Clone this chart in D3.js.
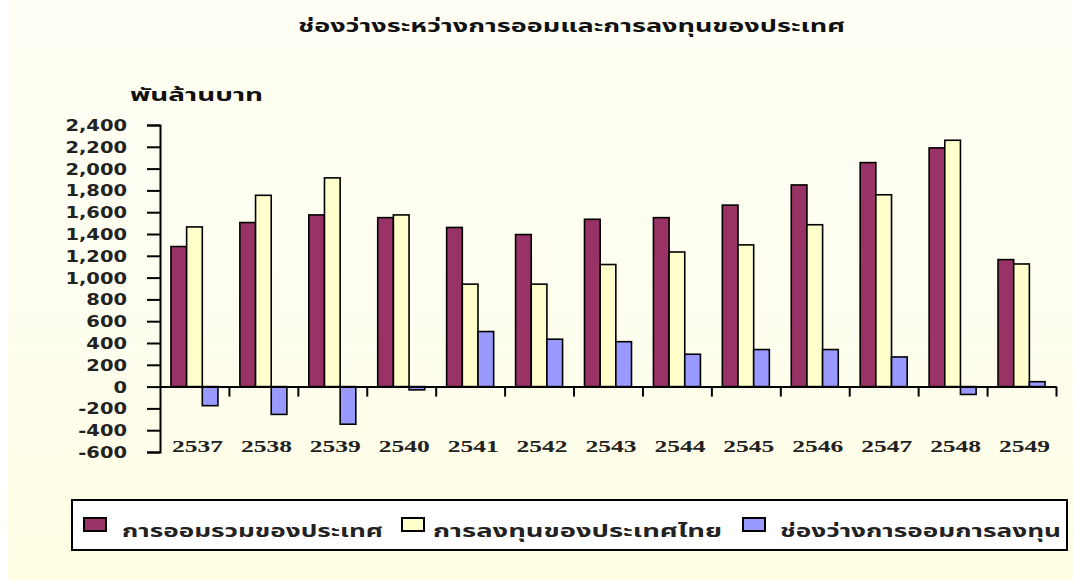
<!DOCTYPE html>
<html><head><meta charset="utf-8">
<script src="https://cdn.jsdelivr.net/npm/d3@7"></script>
<style>body{margin:0;background:#fff}svg{display:block}</style>
</head><body>
<svg id="c" width="1073" height="582"></svg>
<script>
const categories = ["2537","2538","2539","2540","2541","2542","2543","2544","2545","2546","2547","2548","2549"];
const seriesNames = ["การออมรวมของประเทศ","การลงทุนของประเทศไทย","ช่องว่างการออมการลงทุน"];
const savings    = [1285,1505,1575,1550,1460,1395,1535,1550,1665,1850,2055,2190,1165];
const investment = [1465,1755,1915,1575, 940, 940,1120,1235,1300,1485,1760,2260,1125];
const gap        = [-175,-255,-345, -30, 505, 435, 412, 297, 340, 340, 272, -72,  45];
const yTicks = [-600,-400,-200,0,200,400,600,800,1000,1200,1400,1600,1800,2000,2200,2400];
const titleText = "ช่องว่างระหว่างการออมและการลงทุนของประเทศ";
const yLabelText = "พันล้านบาท";
const colors = ["#993366","#FFFFCC","#9999FF"];

const svg = d3.select("#c");
const defs = svg.append("defs");
const grad = defs.append("linearGradient").attr("id","bg").attr("x1",0).attr("y1",0).attr("x2",0).attr("y2",1);
grad.append("stop").attr("offset","0%").attr("stop-color","#FEFEF4");
grad.append("stop").attr("offset","55%").attr("stop-color","#FEFEF0");
grad.append("stop").attr("offset","100%").attr("stop-color","#FFFDE2");
svg.append("rect").attr("x",8).attr("y",0).attr("width",1065).attr("height",580).attr("fill","url(#bg)");

const thaiFont = "'Noto Sans Thai','Noto Sans','DejaVu Sans',sans-serif";

// title
svg.append("text").attr("x",298).attr("y",32).attr("textLength",547).attr("lengthAdjust","spacingAndGlyphs")
  .attr("font-family",thaiFont).attr("font-weight","bold").attr("font-size",17).attr("fill","#111").text(titleText);
// y label
svg.append("text").attr("x",130).attr("y",101).attr("textLength",133).attr("lengthAdjust","spacingAndGlyphs")
  .attr("font-family",thaiFont).attr("font-weight","bold").attr("font-size",17).attr("fill","#111").text(yLabelText);

const left = 160, right = 1056;
const y = d3.scaleLinear().domain([-600,2400]).range([452,125]);
const x0 = d3.scaleBand().domain(categories).range([left,right]).paddingInner(0.318).paddingOuter(0.159);
const x1 = d3.scaleBand().domain([0,1,2]).range([0,x0.bandwidth()]);

const table = categories.map((c,i)=>({cat:c, vals:[savings[i],investment[i],gap[i]]}));

// bars
const groups = svg.append("g").selectAll("g").data(table).join("g")
  .attr("transform",d=>`translate(${x0(d.cat)},0)`);
groups.selectAll("rect").data(d=>d.vals.map((v,k)=>({v,k}))).join("rect")
  .attr("x",d=>x1(d.k)).attr("width",x1.bandwidth())
  .attr("y",d=>y(Math.max(0,d.v))).attr("height",d=>Math.abs(y(d.v)-y(0)))
  .attr("fill",d=>colors[d.k]).attr("stroke","#000").attr("stroke-width",1.6);

// x axis at zero
const xb = d3.scaleLinear().domain([0,categories.length]).range([left,right]);
const xAxis = svg.append("g").attr("transform",`translate(0,${y(0)})`)
  .call(d3.axisBottom(xb).tickValues(d3.range(1,categories.length+1)).tickSize(10).tickSizeOuter(0).tickFormat(""));
xAxis.select(".domain").attr("stroke","#000").attr("stroke-width",2);
xAxis.selectAll(".tick line").attr("stroke","#000").attr("stroke-width",2);

// x labels (low position)
svg.append("g").selectAll("text").data(categories).join("text")
  .attr("transform",d=>`translate(${x0(d)+x0.bandwidth()/2 + 3},452) scale(1.5,1)`)
  .attr("text-anchor","middle").attr("font-family","'Liberation Serif',serif").attr("font-weight","bold")
  .attr("font-size",17).attr("fill","#222").text(d=>d);

// y axis
const fmt = d => d3.format(",")(d).replace("\u2212","-");
const yAxis = svg.append("g").attr("transform",`translate(${left},0)`)
  .call(d3.axisLeft(y).tickValues(yTicks).tickSize(13).tickSizeOuter(13).tickFormat(fmt));
yAxis.select(".domain").attr("stroke","#000").attr("stroke-width",2);
yAxis.selectAll(".tick line").attr("stroke","#000").attr("stroke-width",2);
yAxis.selectAll(".tick text").attr("x",0).attr("dy","0.36em")
  .attr("transform","translate(-33,0) scale(1.3,1)")
  .attr("font-family","'DejaVu Sans',sans-serif").attr("font-weight","bold").attr("font-size",15).attr("fill","#222");

// legend
const lg = svg.append("g");
lg.append("rect").attr("x",72).attr("y",500).attr("width",995).attr("height",50)
  .attr("fill","#fff").attr("stroke","#000").attr("stroke-width",2);
const legendItems = [
  {sx:84, tx:122, tl:261},
  {sx:402, tx:433, tl:289},
  {sx:743, tx:780, tl:281}
];
legendItems.forEach((it,k)=>{
  lg.append("rect").attr("x",it.sx).attr("y",518).attr("width",22).attr("height",13)
    .attr("fill",colors[k]).attr("stroke","#000").attr("stroke-width",2);
  lg.append("text").attr("x",it.tx).attr("y",537).attr("textLength",it.tl).attr("lengthAdjust","spacingAndGlyphs")
    .attr("font-family",thaiFont).attr("font-weight","bold").attr("font-size",17).attr("fill","#222").text(seriesNames[k]);
});
</script>
</body></html>
